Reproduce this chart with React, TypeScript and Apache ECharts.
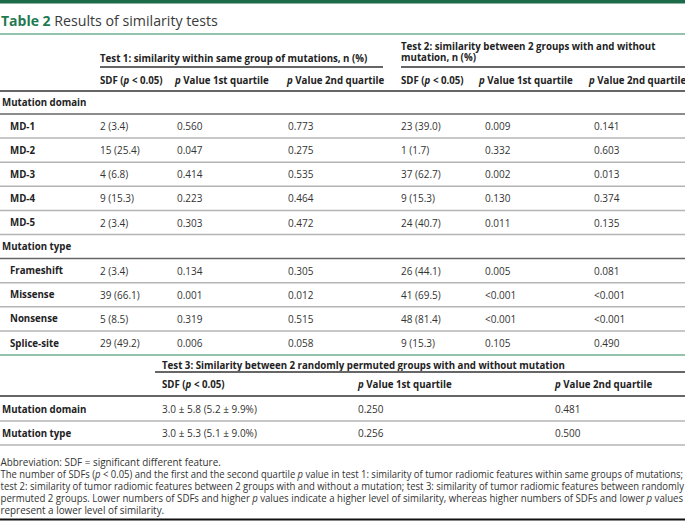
import React, { useEffect, useRef } from "react";
import * as echarts from "echarts";

// ---- data ----
const groupLabels = ["Mutation domain", "Mutation type"];
const domainLabels = ["MD-1", "MD-2", "MD-3", "MD-4", "MD-5"];
const typeLabels = ["Frameshift", "Missense", "Nonsense", "Splice-site"];
const t1SDF = ["2 (3.4)", "15 (25.4)", "4 (6.8)", "9 (15.3)", "2 (3.4)", "2 (3.4)", "39 (66.1)", "5 (8.5)", "29 (49.2)"];
const t1Q1 = ["0.560", "0.047", "0.414", "0.223", "0.303", "0.134", "0.001", "0.319", "0.006"];
const t1Q2 = ["0.773", "0.275", "0.535", "0.464", "0.472", "0.305", "0.012", "0.515", "0.058"];
const t2SDF = ["23 (39.0)", "1 (1.7)", "37 (62.7)", "9 (15.3)", "24 (40.7)", "26 (44.1)", "41 (69.5)", "48 (81.4)", "9 (15.3)"];
const t2Q1 = ["0.009", "0.332", "0.002", "0.130", "0.011", "0.005", "<0.001", "<0.001", "0.105"];
const t2Q2 = ["0.141", "0.603", "0.013", "0.374", "0.135", "0.081", "<0.001", "<0.001", "0.490"];
const t3Labels = ["Mutation domain", "Mutation type"];
const t3SDF = ["3.0 ± 5.8 (5.2 ± 9.9%)", "3.0 ± 5.3 (5.1 ± 9.0%)"];
const t3Q1 = ["0.250", "0.256"];
const t3Q2 = ["0.481", "0.500"];
const titleLabel = "Table 2";
const titleText = "Results of similarity tests";
const test1Header = "Test 1: similarity within same group of mutations, n (%)";
const test2Header = ["Test 2: similarity between 2 groups with and without", "mutation, n (%)"];
const test3Header = "Test 3: Similarity between 2 randomly permuted groups with and without mutation";
const footnotes = [
  "Abbreviation: SDF = significant different feature.",
  "The number of SDFs ({i|p} < 0.05) and the first and the second quartile {i|p} value in test 1: similarity of tumor radiomic features within same groups of mutations;",
  "test 2: similarity of tumor radiomic features between 2 groups with and without a mutation; test 3: similarity of tumor radiomic features between randomly",
  "permuted 2 groups. Lower numbers of SDFs and higher {i|p} values indicate a higher level of similarity, whereas higher numbers of SDFs and lower {i|p} values",
  "represent a lower level of similarity.",
];
const justifiedFootnotes = [false, true, true, true, false];

// ---- styles ----
const FONT = "'Open Sans', 'Noto Sans', sans-serif";
const BODY = 10;
const BOLD = 9.7;
const FOOT = 9.9;
const TXT = "#333333";
const HDR = "#222222";
const GREEN_DARK = "#1b6a48";
const GREEN_LINE = "#6fae92";
const DARK_LINE = "#666666";
const LIGHT_LINE = "#b4b4b4";

function measure(text: string, size: number) {
  const plain = text.replace(/\{[a-z]+\|([^}]*)\}/g, "$1");
  const c = document.createElement("canvas").getContext("2d");
  if (!c) return 0;
  c.font = `${size}px 'Open Sans', 'Noto Sans', sans-serif`;
  return c.measureText(plain).width;
}

function txt(x: number, y: number, text: string, opts: any = {}) {
  const bold = !!opts.bold;
  const size = opts.size ?? (bold ? BOLD : BODY);
  const fill = opts.fill ?? (bold ? HDR : TXT);
  return {
    type: "text",
    x,
    y,
    scaleX: opts.scaleX ?? 1,
    style: {
      text,
      fill,
      fontFamily: FONT,
      fontSize: size,
      fontWeight: bold ? "bold" : "normal",
      textAlign: "left",
      textVerticalAlign: "middle",
      align: "left",
      verticalAlign: "middle",
      rich: {
        i: { fontFamily: FONT, fontSize: size, fontStyle: "italic", fontWeight: bold ? "bold" : "normal", fill },
        ...(opts.rich || {}),
      },
    },
  };
}

function hline(y: number, x1: number, x2: number, color: string, w: number) {
  return { type: "line", shape: { x1, y1: y, x2, y2: y }, style: { stroke: color, lineWidth: w } };
}

const sdfHeader = "SDF ({i|p} < 0.05)";
const q1Header = "{i|p} Value 1st quartile";
const q2Header = "{i|p} Value 2nd quartile";

function buildGraphic() {
  const els: any[] = [];
  const W = 685;
  // top bar & title
  els.push({ type: "rect", shape: { x: 0, y: 0, width: W, height: 3.5 }, style: { fill: GREEN_DARK } });
  els.push(
    txt(1, 20, `{t|${titleLabel}} {r|${titleText}}`, {
      size: 14,
      rich: {
        t: { fontFamily: FONT, fontSize: 14, fontWeight: "bold", fill: "#1f7a52" },
        r: { fontFamily: FONT, fontSize: 14.2, fill: "#3a3a3a" },
      },
    })
  );
  els.push(hline(34, 0, W, GREEN_LINE, 1.5));

  // Test 1/2 headers
  const c1 = [100, 177, 288];
  const c2 = [401, 485, 594];
  const h1 = [100, 175, 287];
  const h2 = [401, 479, 589];
  els.push(txt(100, 58, test1Header, { bold: true }));
  els.push(txt(401, 46, test2Header[0], { bold: true }));
  els.push(txt(401, 57.5, test2Header[1], { bold: true }));
  els.push(hline(67, 100, 383, DARK_LINE, 2));
  els.push(hline(67, 401, W, DARK_LINE, 2));
  [sdfHeader, q1Header, q2Header].forEach((h, k) => {
    els.push(txt(h1[k], 80, h, { bold: true }));
    els.push(txt(h2[k], 80, h, { bold: true }));
  });
  els.push(hline(91, 0, W, DARK_LINE, 2));

  // body rows
  const pitch = 24.1;
  let y = 102;
  let r = 0;
  const groups = [domainLabels, typeLabels];
  groups.forEach((labels, g) => {
    els.push(txt(2, y, groupLabels[g], { bold: true }));
    els.push(hline(y + 12, 0, W, DARK_LINE, 1.5));
    y += pitch;
    labels.forEach((lab, j) => {
      els.push(txt(10, y, lab, { bold: true }));
      els.push(txt(c1[0], y, t1SDF[r]));
      els.push(txt(c1[1], y, t1Q1[r]));
      els.push(txt(c1[2], y, t1Q2[r]));
      els.push(txt(c2[0], y, t2SDF[r]));
      els.push(txt(c2[1], y, t2Q1[r]));
      els.push(txt(c2[2], y, t2Q2[r]));
      const last = g === groups.length - 1 && j === labels.length - 1;
      if (!last) els.push(hline(y + 12, 0, W, LIGHT_LINE, 1.5));
      y += pitch;
      r++;
    });
  });
  // green separator
  const gy = y - pitch + 12;
  els.push(hline(gy, 0, W, GREEN_LINE, 1.5));

  // Test 3
  const c3 = [162, 358, 555];
  els.push(txt(162, 365, test3Header, { bold: true }));
  els.push(hline(372, 155, W, DARK_LINE, 2));
  [sdfHeader, q1Header, q2Header].forEach((h, k) => els.push(txt(c3[k], 384, h, { bold: true })));
  els.push(hline(396, 0, W, DARK_LINE, 2));
  t3Labels.forEach((lab, k) => {
    const yy = 409 + k * 24;
    els.push(txt(2, yy, lab, { bold: true }));
    els.push(txt(c3[0], yy, t3SDF[k]));
    els.push(txt(c3[1], yy, t3Q1[k]));
    els.push(txt(c3[2], yy, t3Q2[k]));
    els.push(hline(yy + 12, 0, W, LIGHT_LINE, 1.5));
  });

  // footnotes
  footnotes.forEach((f, k) => {
    let sx = 1;
    if (justifiedFootnotes[k]) {
      const w = measure(f, FOOT);
      if (w > 0) sx = Math.min(1.06, Math.max(0.94, 683 / w));
    }
    els.push(txt(0.5, 462 + k * 12, f, { size: FOOT, fill: "#333333", scaleX: sx }));
  });
  els.push(hline(519.5, 0, W, "#111111", 2));
  return els;
}

export default function App() {
  const ref = useRef<HTMLDivElement>(null);
  useEffect(() => {
    if (!ref.current) return;
    const chart = echarts.init(ref.current, undefined, { renderer: "svg" });
    chart.setOption({
      animation: false,
      backgroundColor: "#ffffff",
      graphic: { elements: buildGraphic() },
    });
    return () => chart.dispose();
  }, []);
  return (
    <div
      ref={ref}
      style={{ position: "absolute", left: 0, top: 0, width: 685, height: 521, background: "#fff" }}
    />
  );
}
